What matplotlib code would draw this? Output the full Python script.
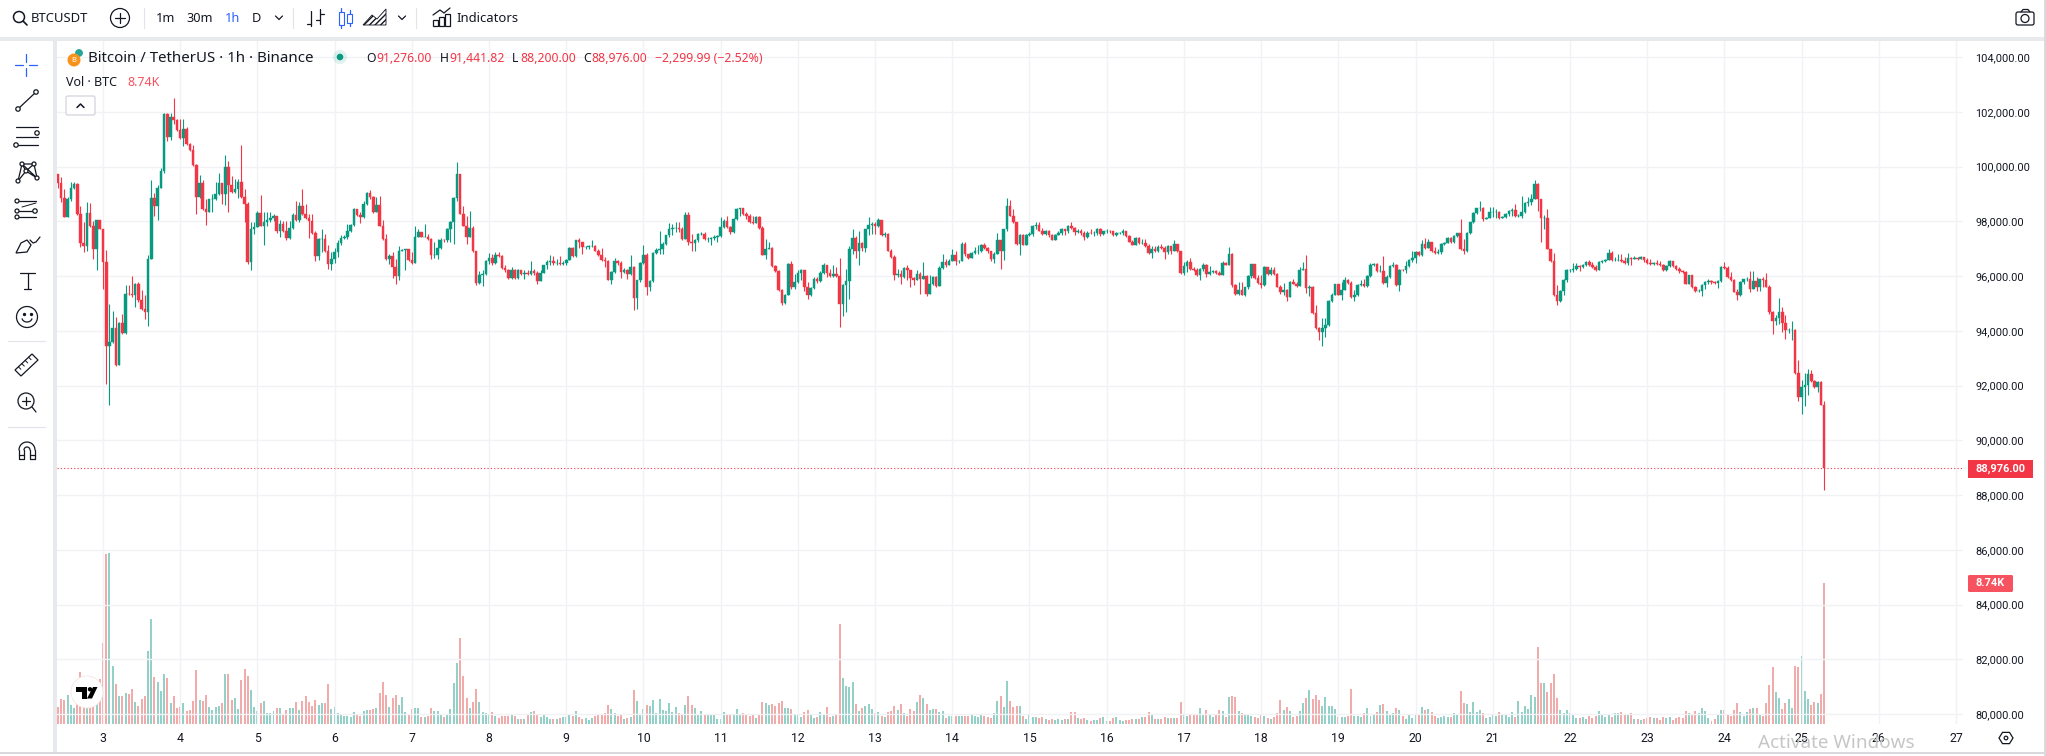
import numpy as np
import matplotlib
matplotlib.use("Agg")
import matplotlib.pyplot as plt
from matplotlib.patches import Circle, Rectangle, FancyBboxPatch, Polygon

# ---- Hourly candles ----
FIRST_HOUR = -14   # hours relative to the 3rd, 00:00
FIRST_OPEN = 99730

closes = [
    99390,98860,98170,98810,99210,99360,98270,97210,97080,98300,
    97810,96990,98030,97700,96510,93440,93600,94090,92750,94270,
    93900,95360,95330,95300,95720,95120,94790,94690,96630,98840,
    98550,99200,99840,101900,101060,101820,101700,101330,101030,101380,
    100810,100610,100050,98870,99390,98450,98330,98810,98810,98990,
    99380,98990,100000,99320,99060,99180,99420,98870,98630,96510,
    97720,97780,98290,97840,97960,98030,98110,98180,97660,97900,
    97630,97390,97750,98230,98060,98570,98270,98110,98000,97560,
    96720,97360,97360,96900,96450,96630,96870,97200,97390,97420,
    97630,97870,98430,98230,98150,98630,99030,98870,98350,98610,
    97840,97360,96610,96730,96330,95990,96930,96960,96990,96570,
    96490,97420,97600,97440,97440,97360,96750,96750,97020,97330,
    97300,97720,97960,98850,99720,98270,97840,97440,97750,96900,
    95760,96050,96090,96530,96660,96490,96780,96730,96290,96210,
    95930,96210,95930,96210,96090,96120,96090,96170,96120,95810,
    96120,96390,96510,
    96530,96470,96470,96450,96490,96570,97030,96730,97320,97240,
    97060,97060,97080,97090,96930,96750,96570,96550,95870,96150,
    96530,96490,96150,96210,96060,96330,95180,95870,96470,96750,
    95580,95820,96840,96960,97000,97180,97480,97720,97750,97750,
    97700,97360,98230,97240,97210,97330,97540,97540,97360,97360,
    97380,97420,97450,97780,98000,97780,97620,98080,98450,98470,
    98270,98180,97960,97940,98150,97750,96780,97000,97020,96350,
    96170,95480,95030,95320,96450,95580,95780,96110,96230,95580,
    95300,95560,95900,95810,96110,96390,96120,95990,96080,95990,
    94970,95660,95820,97000,97400,96930,97210,97030,97700,97870,
    97900,97820,98030,97480,97540,96930,96710,96050,96080,95960,
    96290,96210,95930,95870,96080,95880,96000,95360,95720,95960,
    95620,96290,96510,96410,96530,96780,96530,96530,97180,96790,
    96670,96850,96930,96930,97140,97020,96900,96630,96810,97320,
    96930,97700,98550,98210,97960,97180,97480,97140,97510,97540,
    97840,97880,97660,
    97540,97640,97480,97330,97500,97580,97700,97660,97810,97760,
    97600,97650,97580,97420,97580,97560,97580,97720,97540,97630,
    97660,97630,97500,97580,97580,97630,97470,97260,97140,97380,
    97190,97200,97090,96840,96990,96900,97060,97020,96870,97090,
    96900,97180,96900,96110,96350,96510,96240,96220,96030,96240,
    96390,96060,96150,96170,96110,96050,96480,96420,96810,95660,
    95340,95500,95320,95580,96000,96450,95930,95760,95660,96320,
    96060,96210,96060,95600,95400,95480,95240,95780,95720,95640,
    96230,96270,95560,95590,94660,94090,93970,94110,94210,95080,
    95320,95690,95320,95500,95870,95760,95240,95320,95660,95700,
    95620,95990,96410,96450,96170,96170,95760,95960,96360,96390,
    95660,96230,96210,96360,96570,96650,96870,96750,97180,97030,
    97240,96900,96840,96870,97180,97200,97380,97240,97450,97560,
    96970,96900,97580,97970,98290,98470,98470,98090,98110,98330,
    98330,98330,98110,98150,98270,98390,98420,98180,98200,98330,
    98650,98690,98810,
    99360,98810,98110,98110,96990,96550,95300,95080,95440,95840,
    96210,96210,96240,96360,96320,96410,96510,96390,96330,96230,
    96510,96530,96590,96840,96570,96590,96590,96530,96480,96650,
    96630,96670,96630,96680,96570,96480,96440,96460,96450,96410,
    96210,96360,96530,96360,96270,96170,96150,95720,96030,95600,
    95440,95440,95660,95780,95810,95780,95760,95810,96330,96290,
    95960,95840,95420,95300,95780,95880,95900,95520,95810,95600,
    95880,95840,95600,94670,94350,94470,94670,94270,94020,94020,
    94020,92450,91590,91930,92030,92410,92150,91930,92120,91276,
    88976,
]

highs = [
    99720,99600,99180,98870,99450,99420,99380,98570,97960,98690,
    98670,98020,98060,98020,97720,96950,94990,94720,94510,94330,
    94630,95660,95660,95990,95750,95780,95480,95300,96750,99520,
    99050,99320,99960,101960,101940,101940,102510,101750,101720,101750,
    101460,100870,100780,100090,99690,99520,98810,98810,98990,99420,
    99780,99400,100410,100210,99640,99560,99560,100780,99180,98690,
    97960,97960,98390,98960,98330,98350,98330,98270,98210,98060,
    98020,98020,98020,98300,98750,98690,99180,98630,98270,98270,
    97660,97380,97720,97540,97120,96870,97020,97300,97480,97480,
    97900,97900,98470,98450,98330,98750,99080,99140,98930,98870,
    98930,98060,97540,96810,96870,96630,97090,96990,96990,96990,
    96870,97820,97700,97620,97900,97540,97380,97240,97360,97380,
    97360,97750,98020,98870,100150,99720,98570,98210,98360,97840,
    96930,96170,96210,96570,96850,96810,96870,96870,96750,96390,
    96270,96330,96270,96270,96210,96210,96210,96530,96270,96170,
    96210,96410,96570,
    96750,96730,96630,96730,96530,96610,97060,97060,97330,97380,
    97260,97090,97140,97320,97120,97000,97020,96690,96570,96170,
    96670,96570,96530,96290,96240,96750,96360,95870,96510,97120,
    96840,95840,96870,97020,97640,97240,97500,97940,97900,97960,
    97960,97780,98350,98350,97540,97360,97560,97600,97600,97420,
    97420,97480,97510,98150,98080,98180,97820,98110,98470,98500,
    98470,98330,98270,98180,98180,98180,97820,97360,97260,97060,
    96410,96210,95510,95360,96490,96530,96080,96210,96270,96230,
    95780,95600,95960,95960,96170,96490,96410,96270,96410,96330,
    96650,95690,96270,97090,97720,97450,97650,97240,97700,98150,
    97990,97960,98110,98030,97600,97580,97000,96750,96270,96210,
    96330,96390,96210,95960,96210,96150,96510,96050,96020,96000,
    96000,96360,96810,96630,96610,97000,96930,96570,97240,97260,
    96810,96870,97060,97120,97180,97200,97060,96930,96870,97560,
    97320,97720,98840,98780,98450,97990,97540,97540,97540,97600,
    97870,97960,97990,
    97750,97690,97690,97540,97540,97630,97750,97700,97870,97990,
    97780,97720,97700,97630,97630,97700,97630,97750,97750,97660,
    97720,97670,97660,97600,97610,97700,97630,97480,97300,97410,
    97420,97360,97360,97180,97090,97090,97140,97180,97090,97140,
    97050,97320,97180,96930,96510,96570,96670,96330,96290,96290,
    96480,96450,96360,96210,96210,96170,96530,96510,97050,96840,
    95720,95780,95780,95600,96030,96450,96450,96030,96050,96360,
    96330,96330,96330,96110,95660,95760,95520,95810,95880,95780,
    96330,96510,96780,95660,95620,94930,94150,94450,94470,95120,
    95380,95720,95720,95780,95960,95880,95810,95480,95690,95840,
    95880,96030,96480,96480,96480,96390,96730,96030,96410,96510,
    96450,96270,96270,96530,96630,96930,96900,96900,97320,97380,
    97360,97260,97050,96990,97210,97240,97410,97420,97480,97580,
    98080,97360,97600,97990,98330,98500,98730,98510,98150,98510,
    98510,98450,98390,98180,98300,98420,98470,98630,98270,98910,
    98720,98870,98990,
    99500,99390,98810,98230,98450,96990,96850,95660,95480,95880,
    96240,96270,96480,96480,96390,96440,96530,96580,96510,96390,
    96530,96570,96630,96990,96930,96690,96810,96810,96690,96840,
    96690,96730,96690,96730,96690,96650,96630,96510,96570,96530,
    96450,96390,96590,96550,96410,96330,96210,96170,96050,96030,
    95640,95520,95720,95810,95880,95840,95810,95870,96360,96510,
    96360,96150,95880,95540,95810,95900,95960,96170,96190,95960,
    95900,95960,96120,95660,94720,94570,95200,94870,94570,94090,
    94350,94060,92940,92210,92450,92610,92570,92210,92150,92150,
    91441.82,
]

lows = [
    99210,98690,98170,98150,98750,99180,98230,97050,96870,96900,
    97780,96610,96210,97700,95540,92060,91300,93540,92720,92780,
    93880,93870,95300,95240,94870,95060,94750,94420,94180,96610,
    98210,98060,99200,99780,100930,100970,101540,101300,101000,100750,
    100790,100570,100020,98270,98850,98420,97870,98330,98330,98780,
    98960,98630,98590,98330,99030,99030,98840,98840,97990,96450,
    96210,97540,97780,97820,97140,97840,97960,98020,97580,97420,
    97600,97300,97360,97720,98020,97990,98230,98090,97380,97540,
    96530,96570,96870,96870,96270,96210,96490,96690,97140,97360,
    97360,97600,97840,98180,97940,98110,98590,98810,98300,98330,
    97820,97300,96570,96450,95930,95720,95840,96960,96210,96530,
    96450,96490,97420,97420,97420,97300,96610,96660,96630,96990,
    97260,97240,97260,97180,98750,98270,97820,97180,97420,96870,
    95660,95720,95640,96050,96450,96410,96450,96690,96270,96150,
    95880,95900,95880,95900,96050,95900,96050,96050,96020,95720,
    95810,96120,96270,
    96410,96390,96410,96390,96410,96410,96570,96710,96710,97020,
    96810,97000,96970,97060,96900,96730,96530,96330,95840,95720,
    96120,96410,95930,96120,95900,96050,94750,94790,95780,96450,
    95300,95450,95780,96790,96810,96810,97140,97420,97480,97620,
    97600,97330,97360,97140,96900,96900,97240,97500,97300,97260,
    97140,97320,97260,97440,97760,97750,97540,97580,98030,98180,
    98230,98080,97940,97900,97930,97720,96750,96630,96970,96330,
    96150,95440,94930,94990,95300,95540,95540,95760,95840,95440,
    95150,95270,95540,95760,95780,96080,95960,95960,95960,95960,
    94150,94550,94690,95150,96810,96650,96390,96900,96870,97480,
    97540,97540,97780,97450,97420,96900,96650,95840,95960,95690,
    95930,95840,95600,95660,95840,95360,95900,95260,95360,95660,
    95600,95620,96270,96330,96390,96530,96410,96480,96530,96730,
    96630,96650,96810,96810,96870,97000,96850,96530,96480,96810,
    96270,96570,97660,98180,97940,97140,96750,97120,97120,97450,
    97450,97700,97640,
    97500,97500,97440,97320,97330,97500,97500,97500,97580,97720,
    97480,97580,97500,97330,97380,97530,97450,97500,97450,97500,
    97580,97580,97450,97450,97540,97500,97440,97240,97120,97120,
    97170,97170,97070,96810,96670,96870,96870,96970,96630,96810,
    96810,96900,96870,96090,96050,96150,96210,96180,96000,95840,
    96170,95960,96030,96120,96090,96030,96050,96390,96410,95600,
    95300,95320,95300,95270,95540,95930,95880,95720,95560,95640,
    96030,96050,96030,95580,95360,95300,95080,95240,95690,95600,
    95640,96210,95380,95270,94630,94060,93660,93440,93780,94180,
    95060,95300,95300,95120,95480,95690,95200,95080,95270,95640,
    95600,95600,95960,96360,96150,96150,95720,95590,95930,96330,
    95640,95440,96170,96120,96330,96510,96470,96730,96730,96990,
    97020,96870,96810,96800,96820,97140,97200,97210,97210,97420,
    96950,96810,96870,97550,97940,98270,98390,98020,98080,98110,
    98150,98110,98080,98110,98110,98180,98200,98160,98150,98130,
    98300,98570,98600,
    98840,98390,97240,97720,96970,96510,95270,94930,95060,95300,
    95780,96150,96150,96210,96180,96290,96360,96360,96290,96190,
    96210,96480,96510,96570,96550,96560,96530,96510,96450,96410,
    96390,96610,96570,96630,96510,96450,96390,96410,96410,96360,
    96170,96170,96330,96330,96230,96120,96110,95690,95690,95560,
    95420,95420,95270,95520,95720,95720,95690,95560,95780,96270,
    95930,95810,95400,95120,95270,95720,95830,95420,95520,95440,
    95440,95600,95580,94630,93880,94210,94230,93960,93700,93900,
    93660,92410,91420,90960,91240,91660,92120,91900,91780,91280,
    88200,
]

volumes = [
    1080,1550,1490,1800,1180,1010,1240,3230,1080,970,
    970,1080,1490,2770,5030,10560,10620,3600,2480,1740,
    1740,1930,1860,2170,1370,1120,1550,1740,4530,6520,
    2920,2610,2050,3110,2860,1300,1740,990,1060,1300,
    810,870,1430,3350,1490,1430,1800,1060,870,1060,
    1120,1300,3110,3110,1490,1610,930,2730,3420,2980,
    2110,1060,810,1300,1430,680,680,810,990,990,
    560,870,990,990,1370,870,1430,1740,1370,1120,
    1490,1180,1300,1300,2480,930,1060,680,560,500,
    500,430,750,620,500,810,870,870,930,990,
    1930,2610,1800,1060,1610,1800,1180,1680,750,560,
    930,990,990,430,430,500,990,810,810,620,
    430,620,930,2550,3790,5340,2980,1610,990,1370,
    2170,1370,750,680,620,750,500,370,500,500,
    500,560,500,310,310,310,620,750,810,620,
    430,
    560,430,310,310,310,370,430,430,620,
    500,810,430,310,370,250,370,500,560,560,
    680,1180,930,680,500,620,310,370,430,2110,
    1430,620,930,1180,1120,1490,680,1550,870,810,
    1300,750,1060,680,620,1180,1740,1180,990,620,
    810,560,560,560,620,310,310,750,560,620,
    560,930,620,680,560,500,560,370,620,
    1370,1300,1180,1240,1120,1300,1430,990,990,930,
    620,620,430,750,870,620,370,430,750,560,
    1060,430,500,560,
    6210,2860,2360,2300,2610,1240,810,990,1120,1240,
    930,680,750,500,430,750,810,1120,870,1240,
    680,500,930,810,1370,1800,1610,1240,870,930,
    930,750,810,370,500,500,500,500,500,500,
    500,560,500,430,620,500,430,370,680,
    1430,1740,1060,2670,1430,1060,1120,1120,
    500,310,560,430,430,370,430,310,250,310,
    250,310,250,310,310,750,750,370,310,370,
    250,190,250,250,370,430,190,190,370,430,
    250,190,250,250,310,310,310,430,430,750,
    560,310,310,310,430,370,370,370,370,1370,
    620,500,560,560,560,990,560,870,620,430,
    560,870,810,430,1680,1740,1680,810,680,560,
    620,500,430,370,560,500,370,310,430,680,
    1490,870,1060,810,430,500,810,1300,1610,2110,
    1550,1800,1490,1120,1680,1120,1120,930,430,430,
    430,500,2170,500,500,430,680,990,500,620,
    750,1180,1240,810,560,680,990,870,500,310,
    620,370,560,620,1060,870,930,750,500,370,
    430,500,430,430,680,620,2050,1300,1240,750,
    1370,750,870,680,370,430,560,500,
    720,560,620,460,720,460,1430,720,1120,930,
    1800,1680,4780,2550,2550,1990,2550,3110,1610,870,680,870,680,620,
    390,390,430,330,500,390,500,810,560,430,620,
    430,680,680,750,560,620,680,310,310,250,
    310,370,430,370,370,250,430,370,430,250,
    370,430,370,810,680,620,810,680,990,810,
    370,190,310,560,870,870,620,500,870,1300,
    750,500,750,930,990,990,620,500,1300,2420,
    3540,1990,1610,930,1300,1550,990,3600,3540,4220,
    2050,1550,1180,1370,1300,1860,8740,
]

price_ticks = list(range(80000, 104001, 2000))
day_labels = list(range(3, 28))

UP, DOWN = "#089981", "#f23645"
VOL_UP, VOL_DOWN = "#93d0c8", "#f2abab"
GRID = "#f1f2f5"
TEXT = "#131722"
FONT = "Noto Sans"
AXIS_FONT = "Roboto"
plt.rcParams["font.family"] = FONT


def check_lengths():
    sizes = [len(closes), len(highs), len(lows), len(volumes)]
    if len(set(sizes)) != 1:
        raise SystemExit(f"Series lengths differ: {sizes}")


def draw_chart(fig):
    W, H = 2046.0, 756.0
    left, right, top, bottom = 57, 1963, 40, 724
    ax = fig.add_axes([left/W, 1-bottom/H, (right-left)/W, (bottom-top)/H])
    vol = ax.twinx()
    for a in (ax, vol):
        for s in a.spines.values():
            s.set_visible(False)
    ax.set_zorder(vol.get_zorder() + 1)
    ax.patch.set_visible(False)

    c = np.array(closes, dtype=float)
    o = np.r_[FIRST_OPEN, c[:-1]]
    hi = np.maximum(np.array(highs, dtype=float), np.maximum(o, c))
    lo = np.minimum(np.array(lows, dtype=float), np.minimum(o, c))
    hours = np.arange(len(c)) + FIRST_HOUR
    up = c >= o

    colors = np.where(up, UP, DOWN)
    ax.vlines(hours, lo, hi, colors=colors, linewidth=0.8, zorder=3)
    ax.bar(hours, np.abs(c - o), bottom=np.minimum(o, c), width=0.8,
           color=colors, edgecolor=colors, linewidth=0.3, zorder=4)
    ax.axhline(c[-1], color=DOWN, linewidth=0.8, linestyle=(0, (1, 2)), zorder=2)

    vol.bar(hours, volumes, width=0.62, color=np.where(up, VOL_UP, VOL_DOWN), zorder=2)

    # 3.217 px per hour, the 3rd sits at x=103
    ax.set_xlim((left - 103) / 3.217, (right - 103) / 3.217)
    # 80,000 sits at y=714, 27.375 px per 1000
    ax.set_ylim(80000 - (bottom - 714) / 0.027375, 80000 + (714 - top) / 0.027375)
    vol.set_ylim(0, 42490)
    vol.set_yticks([])

    ax.set_xticks([(d - 3) * 24 for d in day_labels])
    ax.set_xticklabels([str(d) for d in day_labels], fontsize=8.8, color=TEXT, family=AXIS_FONT)
    ax.set_yticks(price_ticks)
    ax.set_yticklabels([f"{v:,.2f}" for v in price_ticks], fontsize=7.9, color=TEXT, family=AXIS_FONT)
    ax.yaxis.tick_right()
    ax.tick_params(axis="both", length=0)
    ax.tick_params(axis="y", pad=9)
    ax.tick_params(axis="x", pad=6)
    ax.grid(True, color=GRID, linewidth=1.0, zorder=0)
    ax.set_axisbelow(True)
    return ax


def ring(ui, x, y, r, color=TEXT, lw=0.9, fill="white", z=6):
    ui.add_patch(Circle((x, y), r, facecolor=fill, edgecolor=color, linewidth=lw, zorder=z))


def line(ui, xs, ys, color=TEXT, lw=0.9, z=5):
    ui.plot(xs, ys, color=color, linewidth=lw, zorder=z, solid_capstyle="round")


def draw_top_bar(ui):
    ring(ui, 19, 17, 5.5, lw=1.1)
    line(ui, [23, 27], [21, 25], lw=1.2)
    ui.text(31, 19, "BTCUSDT", fontsize=9.4, fontweight="bold", color=TEXT, va="center")
    ring(ui, 120, 18, 9.5)
    line(ui, [115, 125], [18, 18], z=7); line(ui, [120, 120], [13, 23], z=7)
    for x, label, col in [(166, "1m", TEXT), (200, "30m", TEXT), (233, "1h", "#2962ff"), (256, "D", TEXT)]:
        ui.text(x, 19, label, fontsize=9.2, color=col, ha="center", va="center")
    for cx in (279, 402):
        line(ui, [cx - 3.5, cx, cx + 3.5], [16, 19.5, 16])
    for sx in (144, 293, 416):
        line(ui, [sx, sx], [8, 28], color="#e0e3eb", lw=0.8)
    # bars icon
    line(ui, [311, 311], [11, 26]); line(ui, [307, 311], [24, 24])
    line(ui, [320, 320], [9, 24]); line(ui, [320, 324], [14, 14]); line(ui, [316, 320], [20, 20])
    # candles icon
    blue = "#2962ff"
    ui.add_patch(Rectangle((338.5, 12), 5, 13, fill=False, edgecolor=blue, linewidth=0.8))
    line(ui, [341, 341], [8, 12], color=blue); line(ui, [341, 341], [25, 28], color=blue)
    ui.add_patch(Rectangle((347, 14), 5, 9, fill=False, edgecolor=blue, linewidth=0.8))
    line(ui, [349.5, 349.5], [10, 14], color=blue); line(ui, [349.5, 349.5], [23, 26], color=blue)
    # area icon
    ui.add_patch(Polygon([(363, 25), (372, 15), (377, 19), (386, 9), (386, 25)],
                         facecolor="white", edgecolor=TEXT, hatch="//////", linewidth=0.6))
    # indicators icon
    line(ui, [433, 440, 444, 450], [15, 10, 13, 8])
    for bx, by in [(433, 20), (439, 17), (445, 14)]:
        ui.add_patch(Rectangle((bx, by), 5, 26 - by, fill=False, edgecolor=TEXT, linewidth=0.9))
    ui.text(456, 19, "Indicators", fontsize=9.4, color=TEXT, va="center")
    # camera
    ui.add_patch(FancyBboxPatch((2016, 12), 18, 13, boxstyle="round,pad=0,rounding_size=2",
                                fill=False, edgecolor=TEXT, linewidth=0.9))
    line(ui, [2021, 2023, 2028, 2030], [12, 9.5, 9.5, 12])
    ring(ui, 2025, 18.5, 4, fill="none")


def draw_side_bar(ui):
    cx = 26
    blue = "#2962ff"
    for xs, ys in [([cx, cx], [54, 62]), ([cx, cx], [68, 76]), ([15, 23], [65, 65]), ([29, 37], [65, 65])]:
        line(ui, xs, ys, color=blue)
    line(ui, [19, 35], [108, 93])
    ring(ui, 18, 109, 2.2); ring(ui, 36, 92, 2.2)
    for y in (127, 137, 145):
        line(ui, [16, 38], [y, y])
    ring(ui, 37, 133, 2.2); ring(ui, 16, 145, 2.2)
    pts = [(18, 181), (22, 164), (26, 171), (34, 164), (37, 178)]
    line(ui, [p[0] for p in pts], [p[1] for p in pts])
    line(ui, [18, 26, 37, 22, 34], [181, 171, 178, 164, 164])
    for p in pts:
        ring(ui, p[0], p[1], 2)
    for y in (201, 211, 217):
        line(ui, [19, 36], [y, y])
        ring(ui, 17, y, 2)
    ring(ui, 35, 211, 2.2)
    line(ui, [22, 36], [207, 203], lw=0.7)
    ui.add_patch(Polygon([(16, 253), (21, 243), (27, 240), (31, 245), (27, 252)],
                         fill=False, edgecolor=TEXT, linewidth=0.9))
    line(ui, [30, 33, 36, 40], [240, 243, 242, 237])
    line(ui, [20, 35], [273, 273]); line(ui, [27.5, 27.5], [273, 289]); line(ui, [24, 31], [289, 289])
    ring(ui, 27, 317, 10.5)
    ui.plot([23.5, 30.5], [314, 314], "o", color=TEXT, markersize=1.4, zorder=7)
    arc = np.linspace(0.2, np.pi - 0.2, 20)
    line(ui, 27 + 5 * np.cos(arc), 318 + 4 * np.sin(arc), z=7)
    for y in (341, 427):
        line(ui, [8, 45], [y, y], color="#e0e3eb", lw=0.8)
    ui.add_patch(Polygon([(15, 370), (32, 354), (38, 360), (21, 376)], fill=False,
                         edgecolor=TEXT, linewidth=0.9))
    for t in (0.2, 0.4, 0.6, 0.8):
        x0, y0 = 15 + 17 * t, 370 - 16 * t
        line(ui, [x0, x0 + 2.5], [y0, y0 + 2.5], lw=0.7)
    ring(ui, 26, 401, 8)
    line(ui, [22, 30], [401, 401], z=7); line(ui, [26, 26], [397, 405], z=7); line(ui, [32, 36], [407, 412])
    th = np.linspace(np.pi, 2 * np.pi, 20)
    line(ui, 27 + 8 * np.cos(th), 450 + 8 * np.sin(th))
    line(ui, 27 + 3 * np.cos(th), 450 + 3 * np.sin(th))
    line(ui, [19, 19, 24, 24], [450, 459, 459, 450]); line(ui, [30, 30, 35, 35], [450, 459, 459, 450])
    line(ui, [19, 24], [455, 455]); line(ui, [30, 35], [455, 455])


def draw_legend(ui):
    ui.add_patch(Circle((74, 60), 6.5, facecolor="#f7931a", zorder=6))
    ui.add_patch(Circle((79, 53), 4.5, facecolor="#26a69a", edgecolor="white", linewidth=0.8, zorder=5))
    ui.text(74, 60, "B", fontsize=5.5, color="white", fontweight="bold", ha="center", va="center", zorder=7)
    ui.text(88, 58.5, "Bitcoin / TetherUS \u00b7 1h \u00b7 Binance", fontsize=10.8, color=TEXT, va="center")
    ui.add_patch(Circle((340, 57), 7, facecolor="#089981", alpha=0.12, zorder=5))
    ui.add_patch(Circle((340, 57), 3.3, facecolor="#089981", zorder=6))
    for x, k, vx, v in [(366, "O", 376, "91,276.00"), (440, "H", 449, "91,441.82"),
                        (512, "L", 520, "88,200.00"), (583, "C", 591, "88,976.00")]:
        ui.text(x, 58, k, fontsize=8.8, color=TEXT, va="center")
        ui.text(vx, 58, v, fontsize=8.8, color=DOWN, va="center")
    ui.text(655, 58, "\u22122,299.99 (\u22122.52%)", fontsize=8.8, color=DOWN, va="center")
    ui.text(66, 82, "Vol \u00b7 BTC", fontsize=9, color=TEXT, va="center")
    ui.text(127, 82, "8.74K", fontsize=9, color="#f7525f", va="center")
    ui.add_patch(FancyBboxPatch((66, 96), 29, 19, boxstyle="round,pad=0,rounding_size=2",
                                facecolor="white", edgecolor="#d1d4dc", linewidth=0.9, zorder=5))
    line(ui, [77, 80.5, 84], [107.5, 104, 107.5], lw=1.1, z=6)


def draw_tags(ui):
    ui.add_patch(Rectangle((1968, 460), 65, 17.5, facecolor=DOWN, zorder=6))
    ui.text(2000.5, 468.5, "88,976.00", fontsize=7.9, color="white", fontweight="bold",
            family=AXIS_FONT, ha="center", va="center", zorder=7)
    ui.add_patch(FancyBboxPatch((1968, 575), 45, 17, boxstyle="round,pad=0,rounding_size=1.5",
                                facecolor="#f7525f", edgecolor="none", zorder=6))
    ui.text(1990.5, 583.5, "8.74K", fontsize=7.9, color="white", fontweight="bold",
            family=AXIS_FONT, ha="center", va="center", zorder=7)
    # settings hexagon
    ang = np.deg2rad(np.arange(0, 360, 60))
    ui.add_patch(Polygon(np.c_[2006 + 7 * np.cos(ang), 738 + 6.5 * np.sin(ang)], fill=False,
                         edgecolor=TEXT, linewidth=0.9))
    ring(ui, 2006, 738, 1.8, fill="none")


def draw_logo(ui):
    ui.add_patch(Circle((87, 692), 16, facecolor="white", edgecolor="#f4e6e6", linewidth=0.6, zorder=8))
    ui.add_patch(Polygon([(76, 687), (87, 687), (87, 698.5), (81.5, 698.5), (81.5, 691.5), (76, 691.5)],
                         facecolor="black", zorder=9))
    ui.add_patch(Circle((90, 689.3), 2.2, facecolor="black", zorder=9))
    ui.add_patch(Polygon([(92, 698.5), (97.5, 687), (93, 687), (87, 698.5)], facecolor="black", zorder=9))


def main():
    check_lengths()
    fig = plt.figure(figsize=(20.46, 7.56), dpi=100, facecolor="white")
    draw_chart(fig)

    ui = fig.add_axes([0, 0, 1, 1], zorder=10)
    ui.set_xlim(0, 2046); ui.set_ylim(756, 0); ui.axis("off")
    ui.patch.set_visible(False)

    strip = "#e8e9ec"
    ui.add_patch(Rectangle((0, 37), 2046, 4, facecolor=strip, zorder=1))
    ui.add_patch(Rectangle((53, 37), 4, 716, facecolor=strip, zorder=1))
    ui.add_patch(Rectangle((0, 752), 2046, 1.5, facecolor="#d8dade", zorder=1))
    ui.add_patch(Rectangle((2044, 0), 1.5, 756, facecolor="#d8dade", zorder=1))

    draw_top_bar(ui)
    draw_side_bar(ui)
    draw_legend(ui)
    draw_tags(ui)
    draw_logo(ui)
    ui.text(1758, 743, "Activate Windows", fontsize=13.6, color="#c6c6c6", va="center", zorder=12)

    fig.savefig("out.png", dpi=100)
    plt.close(fig)


if __name__ == "__main__":
    main()
